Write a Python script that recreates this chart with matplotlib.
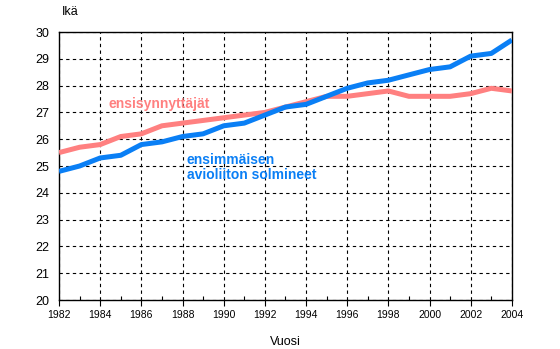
import numpy as np
import matplotlib
matplotlib.use("Agg")
import matplotlib.pyplot as plt
from matplotlib.ticker import MultipleLocator

# -----------------------------------------------------------------------------
# Data
# -----------------------------------------------------------------------------
years = list(range(1982, 2005))
first_birth = [25.5, 25.7, 25.8, 26.1, 26.2, 26.5, 26.6, 26.7, 26.8, 26.9, 27.0,
               27.2, 27.4, 27.6, 27.6, 27.7, 27.8, 27.6, 27.6, 27.6, 27.7, 27.9, 27.8]
first_marriage = [24.8, 25.0, 25.3, 25.4, 25.8, 25.9, 26.1, 26.2, 26.5, 26.6, 26.9,
                  27.2, 27.3, 27.6, 27.9, 28.1, 28.2, 28.4, 28.6, 28.7, 29.1, 29.2, 29.7]

label_birth = "ensisynnyttäjät"
label_marriage = "ensimmäisen\navioliiton solmineet"

plt.rcParams['font.family'] = ['Liberation Sans', 'DejaVu Sans']

fig = plt.figure(figsize=(5.6, 3.49), dpi=100)
ax = fig.add_axes([0.1054, 0.1404, 0.8086, 0.7679])

pink = "#ff8080"
blue = "#0a7ff5"

ax.plot(years, first_birth, color=pink, lw=3.6, solid_capstyle="butt", zorder=3)
ax.plot(years, first_marriage, color=blue, lw=3.6, solid_capstyle="butt", zorder=4)

ax.text(1984.4, 27.3, label_birth, color=pink, fontsize=10, fontweight="bold",
        va="center", ha="left")
ax.text(1988.2, 24.95, label_marriage, color=blue, fontsize=10, fontweight="bold",
        va="center", ha="left", linespacing=1.1)

ax.set_xlim(1982, 2004)
ax.set_ylim(20, 30)
ax.xaxis.set_major_locator(MultipleLocator(2))
ax.xaxis.set_minor_locator(MultipleLocator(1))
ax.yaxis.set_major_locator(MultipleLocator(1))

ax.grid(True, which="major", color="black", linestyle=(0, (3, 3)), linewidth=0.8)
ax.tick_params(axis="x", which="major", direction="out", length=4, width=0.8,
               labelsize=7.5, pad=3)
ax.tick_params(axis="x", which="minor", direction="in", length=3, width=0.8)
ax.tick_params(axis="y", which="major", length=0, labelsize=9, pad=7)
for s in ax.spines.values():
    s.set_linewidth(1.0)

ax.set_xlabel("Vuosi", fontsize=9, labelpad=12)
fig.text(62 / 560, 1 - 12 / 349, "Ikä", fontsize=9, ha="left", va="center")

fig.savefig("out.png", dpi=100)
